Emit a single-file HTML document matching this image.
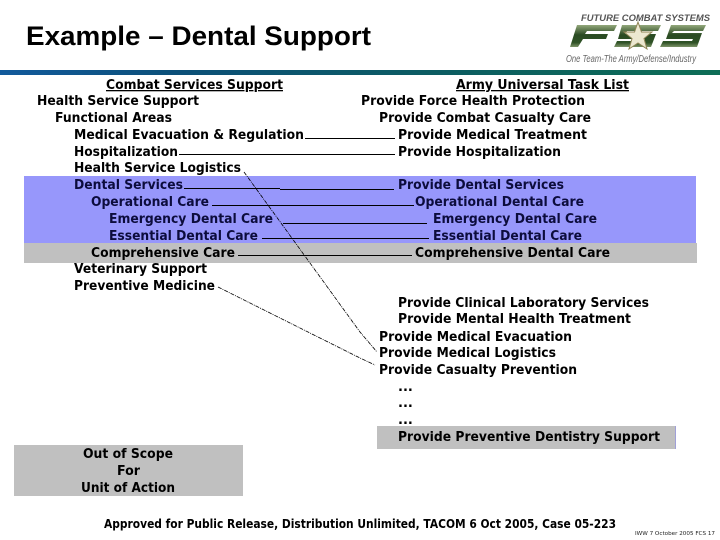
<!DOCTYPE html>
<html>
<head>
<meta charset="utf-8">
<title>Example – Dental Support</title>
<style>
html,body{margin:0;padding:0;background:#fff;width:720px;height:540px;overflow:hidden}
svg{display:block}
.t{font-family:"DejaVu Sans","Liberation Sans",sans-serif;font-weight:bold;font-size:13px;fill:#000}
.n{fill:#0c0c3c}
</style>
</head>
<body>
<svg width="720" height="540" viewBox="0 0 720 540" xmlns="http://www.w3.org/2000/svg">
<defs>
<linearGradient id="band" x1="0" x2="1" y1="0" y2="0">
<stop offset="0" stop-color="#125a9c"/>
<stop offset="0.25" stop-color="#0c5078"/>
<stop offset="0.6" stop-color="#0c5c62"/>
<stop offset="1" stop-color="#0e6e56"/>
</linearGradient>
<linearGradient id="g" x1="0" x2="0" y1="0" y2="1">
<stop offset="0" stop-color="#93a87c"/>
<stop offset="0.45" stop-color="#2a4a22"/>
<stop offset="0.8" stop-color="#2f5226"/>
<stop offset="1" stop-color="#7d9468"/>
</linearGradient>
</defs>
<rect width="720" height="540" fill="#fff"/>

<text x="26" y="45" textLength="345" lengthAdjust="spacingAndGlyphs" style="font-family:'Liberation Sans',sans-serif;font-weight:bold;font-size:27px" fill="#000">Example – Dental Support</text>

<rect x="0" y="70" width="720" height="5" fill="url(#band)"/>

<!-- logo -->
<text x="581" y="21" textLength="129" lengthAdjust="spacingAndGlyphs" style="font-family:'Liberation Sans',sans-serif;font-weight:bold;font-style:italic;font-size:9px" fill="#555">FUTURE COMBAT SYSTEMS</text>
<polygon points="577,25 617,25 614,31 587,31 585,34 608,34 606,39 583,39 578,47 570,47" fill="url(#g)"/>
<polygon points="622,25 661,25 658,31 627,31 625,34 656,34 651,47 614,47 617,41 644,41 645,39 618,39" fill="url(#g)"/>
<polygon points="671,25 706,25 703,31 674,31 672,33 702,33 697,47 660,47 663,41 692,41 693,39 666,39" fill="url(#g)"/>
<polygon points="638,22 641.5,32 652,32 644,38.5 647,49 638,43 629,49 632,38.5 624,32 634.5,32" fill="#ece8d0" stroke="#8f8455" stroke-width="1"/>
<text x="566" y="62" textLength="130" lengthAdjust="spacingAndGlyphs" style="font-family:'Liberation Sans',sans-serif;font-style:italic;font-size:10px" fill="#666">One Team-The Army/Defense/Industry</text>

<!-- bands -->
<rect x="24" y="176" width="672" height="67" fill="#9797fb"/>
<rect x="24" y="243" width="673" height="20" fill="#c0c0c0"/>
<rect x="377" y="426" width="298" height="23" fill="#c0c0c0"/>
<rect x="675" y="426" width="1" height="23" fill="#a0a0d8"/>
<rect x="14" y="445" width="229" height="51" fill="#c0c0c0"/>

<!-- connectors -->
<g stroke="#000" stroke-width="1" fill="none" shape-rendering="crispEdges">
<line x1="305" y1="138.5" x2="395" y2="138.5"/>
<line x1="179" y1="154.5" x2="395" y2="154.5"/>
<line x1="184" y1="188.5" x2="280" y2="188.5"/>
<line x1="280" y1="189.5" x2="394" y2="189.5"/>
<line x1="212" y1="205.5" x2="414" y2="205.5"/>
<line x1="283" y1="223.5" x2="427" y2="223.5"/>
<line x1="262" y1="238.5" x2="429" y2="238.5"/>
<line x1="238" y1="255.5" x2="412" y2="255.5"/>
</g>
<g stroke="#000" stroke-width="0.8" fill="none" stroke-dasharray="4 1 1 1">
<polyline points="244,172 360,332 377,352"/>
<polyline points="218,287 360,358 375,365"/>
</g>

<g transform="translate(0,-1)">
<!-- left column -->
<text class="t" x="106" y="90" textLength="177" lengthAdjust="spacingAndGlyphs" text-decoration="underline">Combat Services Support</text>
<text class="t" x="37" y="106" textLength="162" lengthAdjust="spacingAndGlyphs">Health Service Support</text>
<text class="t" x="55" y="123" textLength="117" lengthAdjust="spacingAndGlyphs">Functional Areas</text>
<text class="t" x="74" y="140" textLength="230" lengthAdjust="spacingAndGlyphs">Medical Evacuation &amp; Regulation</text>
<text class="t" x="74" y="157" textLength="104" lengthAdjust="spacingAndGlyphs">Hospitalization</text>
<text class="t" x="74" y="173" textLength="167" lengthAdjust="spacingAndGlyphs">Health Service Logistics</text>
<text class="t n" x="74" y="190" textLength="109" lengthAdjust="spacingAndGlyphs">Dental Services</text>
<text class="t n" x="91" y="207" textLength="118" lengthAdjust="spacingAndGlyphs">Operational Care</text>
<text class="t n" x="109" y="224" textLength="164" lengthAdjust="spacingAndGlyphs">Emergency Dental Care</text>
<text class="t n" x="109" y="241" textLength="149" lengthAdjust="spacingAndGlyphs">Essential Dental Care</text>
<text class="t" x="91" y="258" textLength="144" lengthAdjust="spacingAndGlyphs">Comprehensive Care</text>
<text class="t" x="74" y="274" textLength="133" lengthAdjust="spacingAndGlyphs">Veterinary Support</text>
<text class="t" x="74" y="291" textLength="141" lengthAdjust="spacingAndGlyphs">Preventive Medicine</text>

<!-- right column -->
<text class="t" x="456" y="90" textLength="173" lengthAdjust="spacingAndGlyphs" text-decoration="underline">Army Universal Task List</text>
<text class="t" x="361" y="106" textLength="224" lengthAdjust="spacingAndGlyphs">Provide Force Health Protection</text>
<text class="t" x="379" y="123" textLength="212" lengthAdjust="spacingAndGlyphs">Provide Combat Casualty Care</text>
<text class="t" x="398" y="140" textLength="189" lengthAdjust="spacingAndGlyphs">Provide Medical Treatment</text>
<text class="t" x="398" y="157" textLength="163" lengthAdjust="spacingAndGlyphs">Provide Hospitalization</text>
<text class="t n" x="398" y="190" textLength="166" lengthAdjust="spacingAndGlyphs">Provide Dental Services</text>
<text class="t n" x="415" y="207" textLength="169" lengthAdjust="spacingAndGlyphs">Operational Dental Care</text>
<text class="t n" x="433" y="224" textLength="164" lengthAdjust="spacingAndGlyphs">Emergency Dental Care</text>
<text class="t n" x="433" y="241" textLength="149" lengthAdjust="spacingAndGlyphs">Essential Dental Care</text>
<text class="t" x="415" y="258" textLength="195" lengthAdjust="spacingAndGlyphs">Comprehensive Dental Care</text>
<text class="t" x="398" y="308" textLength="251" lengthAdjust="spacingAndGlyphs">Provide Clinical Laboratory Services</text>
<text class="t" x="398" y="324" textLength="233" lengthAdjust="spacingAndGlyphs">Provide Mental Health Treatment</text>
<text class="t" x="379" y="342" textLength="193" lengthAdjust="spacingAndGlyphs">Provide Medical Evacuation</text>
<text class="t" x="379" y="358" textLength="177" lengthAdjust="spacingAndGlyphs">Provide Medical Logistics</text>
<text class="t" x="379" y="375" textLength="198" lengthAdjust="spacingAndGlyphs">Provide Casualty Prevention</text>
<text class="t" x="398" y="392">...</text>
<text class="t" x="398" y="408">...</text>
<text class="t" x="398" y="425">...</text>
<text class="t" x="398" y="442" textLength="262" lengthAdjust="spacingAndGlyphs">Provide Preventive Dentistry Support</text>

<!-- out of scope -->
<text class="t" x="83" y="459" textLength="90" lengthAdjust="spacingAndGlyphs">Out of Scope</text>
<text class="t" x="117" y="476" textLength="23" lengthAdjust="spacingAndGlyphs">For</text>
<text class="t" x="81" y="493" textLength="94" lengthAdjust="spacingAndGlyphs">Unit of Action</text>
</g>

<!-- footer -->
<text class="t" x="104" y="528" textLength="512" lengthAdjust="spacingAndGlyphs" style="font-size:12px">Approved for Public Release, Distribution Unlimited, TACOM 6 Oct 2005, Case 05-223</text>
<text x="635" y="535" textLength="80" lengthAdjust="spacingAndGlyphs" style="font-family:'DejaVu Sans',sans-serif;font-size:5.5px" fill="#222">IWW 7 October 2005 FCS 17</text>
</svg>
</body>
</html>
